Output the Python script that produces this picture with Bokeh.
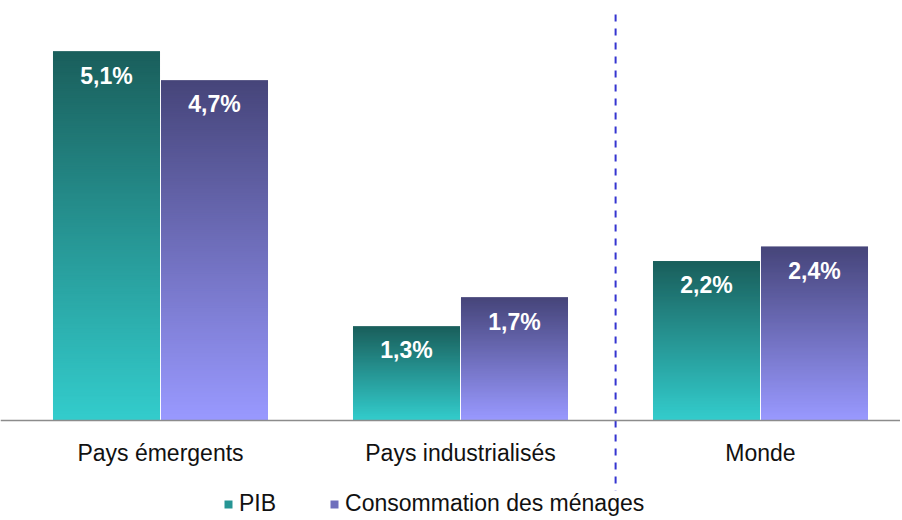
from bokeh.plotting import figure
from bokeh.models import ColumnDataSource, Legend, LegendItem, FixedTicker
from bokeh.core.properties import value
from bokeh.embed import file_html
from bokeh.resources import INLINE

categories = ["Pays émergents", "Pays industrialisés", "Monde"]
pib = [5.1, 1.3, 2.2]
conso = [4.7, 1.7, 2.4]
pib_labels = ["5,1%", "1,3%", "2,2%"]
conso_labels = ["4,7%", "1,7%", "2,4%"]
series_names = ["PIB", "Consommation des ménages"]

PX_PER_UNIT = 72.35
W, H = 900, 518
BASE_PX = 420
y_end = BASE_PX / PX_PER_UNIT
y_start = -(H - BASE_PX) / PX_PER_UNIT
x0 = 0.5 - 160 / 300.0
x1 = x0 + W / 300.0

p = figure(width=W, height=H, x_range=(x0, x1), y_range=(y_start, y_end),
           output_backend="svg", toolbar_location=None, min_border=0)
p.outline_line_color = None
p.grid.visible = False
p.yaxis.visible = False
p.background_fill_color = "white"
p.border_fill_color = "white"

def hex2rgb(h):
    h = h.lstrip("#")
    return tuple(int(h[i:i + 2], 16) for i in (0, 2, 4))

def lerp(c1, c2, t):
    a, b = hex2rgb(c1), hex2rgb(c2)
    return "#%02x%02x%02x" % tuple(int(round(a[i] + (b[i] - a[i]) * t)) for i in range(3))

N = 160
BW = 0.3567
OFF = 0.18

def grad_bars(vals, offset, bottom_col, top_col):
    d = dict(left=[], right=[], bottom=[], top=[], color=[])
    for i, v in enumerate(vals):
        cx = i + 0.5 + offset
        for k in range(N):
            t = k / (N - 1)
            d["left"].append(cx - BW / 2)
            d["right"].append(cx + BW / 2)
            d["bottom"].append(v * k / N)
            d["top"].append(min(v, v * (k + 3) / N))
            d["color"].append(lerp(bottom_col, top_col, t))
    src = ColumnDataSource(d)
    return p.quad(left="left", right="right", bottom="bottom", top="top",
                  fill_color="color", line_color=None, source=src)

r1 = grad_bars(pib, -OFF, "#33cccc", "#1a5f5c")
r2 = grad_bars(conso, OFF, "#9999ff", "#46457a")

lab = ColumnDataSource(dict(
    x=[i + 0.5 - OFF for i in range(3)] + [i + 0.5 + OFF for i in range(3)],
    y=pib + conso,
    t=pib_labels + conso_labels))
p.text(x="x", y="y", text="t", source=lab, text_color="white",
       text_font=value("Liberation Sans"), text_font_style="bold",
       text_font_size="23px", text_align="center", text_baseline="middle",
       y_offset=24)

p.segment(x0=[2.017], y0=[5.61], x1=[2.017], y1=[-0.97],
          line_color="#3535d0", line_width=2, line_dash="7 7")

xa = p.xaxis[0]
xa.fixed_location = 0
xa.ticker = FixedTicker(ticks=[0.5, 1.5, 2.5])
xa.major_label_overrides = {0.5: categories[0], 1.5: categories[1], 2.5: categories[2]}
xa.major_tick_line_color = None
xa.minor_tick_line_color = None
xa.axis_line_color = "#8c8c8c"
xa.axis_line_width = 1.5
xa.major_label_text_font = "Liberation Sans"
xa.major_label_text_font_size = "23px"
xa.major_label_text_color = "#111111"
xa.major_label_standoff = 13

legend = Legend(items=[
    LegendItem(label=series_names[0], renderers=[r1], index=N // 2),
    LegendItem(label=series_names[1], renderers=[r2], index=N // 2)],
    orientation="horizontal", location=(223, 1),
    glyph_width=10, glyph_height=10, label_standoff=6, spacing=53,
    padding=0, margin=0, border_line_color=None, background_fill_alpha=0,
    label_text_font="Liberation Sans", label_text_font_size="23px",
    label_text_color="#111111")
p.add_layout(legend, "center")

open("out.html", "w").write(file_html(p, INLINE))
